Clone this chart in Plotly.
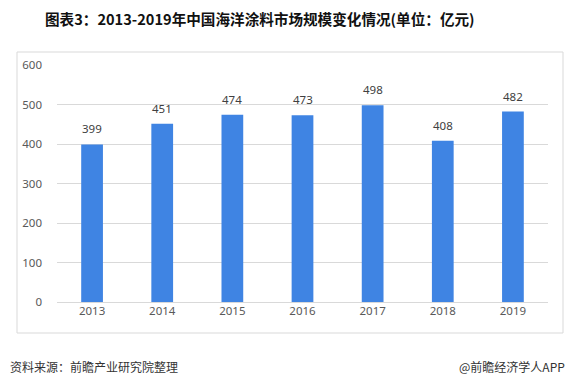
import plotly.graph_objects as go

years = ["2013", "2014", "2015", "2016", "2017", "2018", "2019"]
values = [399, 451, 474, 473, 498, 408, 482]
y_ticks = [0, 100, 200, 300, 400, 500, 600]

title_text = "<b>图表3：2013-2019年中国海洋涂料市场规模变化情况(单位：亿元)</b>"
source_text = "资料来源：前瞻产业研究院整理"
brand_text = "@前瞻经济学人APP"

W, H = 578, 388
L, R, T, B = 57, 548, 65, 302
pw, ph = R - L, B - T

def px(x):
    return (x - L) / pw

def py(y):
    return (B - y) / ph

fig = go.Figure()
fig.add_trace(go.Bar(
    x=years, y=values,
    marker=dict(color="#3F84E3", line=dict(width=0)),
    width=0.31,
    hoverinfo="skip",
))

for i, v in enumerate(values):
    fig.add_annotation(x=i, y=v, xref="x", yref="y", text=str(v), showarrow=False,
                       yanchor="bottom", yshift=6,
                       font=dict(family="Noto Sans", size=11.5, color="#404040"))

fig.add_annotation(x=px(8), y=py(366), xref="paper", yref="paper",
                   text=source_text, showarrow=False, xanchor="left", yanchor="middle",
                   font=dict(family="Noto Sans CJK SC", size=12, color="#333333"))
fig.add_annotation(x=px(567), y=py(366), xref="paper", yref="paper",
                   text=brand_text, showarrow=False, xanchor="right", yanchor="middle",
                   font=dict(family="Noto Sans CJK SC", size=12, color="#333333"))

fig.add_shape(type="rect", xref="paper", yref="paper",
              x0=px(17), x1=px(563), y0=py(333), y1=py(52),
              line=dict(color="#D9D9D9", width=1), fillcolor="rgba(0,0,0,0)", layer="below")

fig.update_layout(
    width=W, height=H,
    margin=dict(l=L, r=W - R, t=T, b=H - B, pad=0),
    paper_bgcolor="white", plot_bgcolor="white",
    showlegend=False,
    title=dict(text=title_text, x=45 / W, xref="container", xanchor="left",
               y=1 - 20 / H, yref="container", yanchor="middle",
               font=dict(family="Noto Sans CJK SC", size=14.6, color="#111111")),
    xaxis=dict(type="category", range=[-0.5, 6.5], showgrid=False, showline=False, ticks="",
               tickfont=dict(family="Noto Sans", size=11.5, color="#595959")),
    yaxis=dict(range=[0, 600], tickvals=y_ticks, showgrid=True, gridcolor="#D9D9D9",
               gridwidth=1, zeroline=True, zerolinecolor="#D9D9D9", zerolinewidth=1,
               showline=False, ticks="", ticklabelstandoff=14,
               tickfont=dict(family="Noto Sans", size=11.5, color="#595959")),
)

fig.write_html("out.html", config={"displayModeBar": False, "staticPlot": True},
               post_script="document.body.style.margin='0';")
